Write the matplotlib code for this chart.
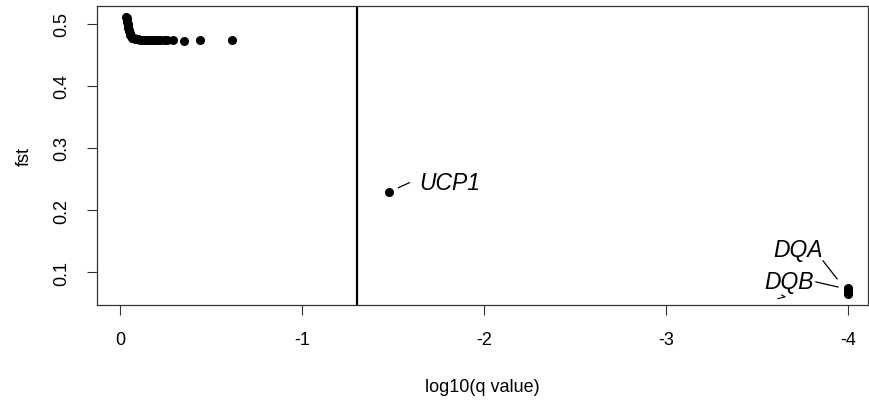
import matplotlib.pyplot as plt

plt.rcParams['font.family'] = ['Liberation Sans', 'DejaVu Sans']

# log10(q value) and fst for each locus
q_cluster = [-0.035, -0.037, -0.040, -0.040, -0.042, -0.044, -0.046, -0.048, -0.050, -0.053,
             -0.057, -0.062, -0.068, -0.075, -0.083, -0.092, -0.100, -0.110, -0.120, -0.130,
             -0.140, -0.150, -0.160, -0.170, -0.180, -0.190, -0.200, -0.210, -0.220, -0.240,
             -0.260, -0.290, -0.350, -0.440, -0.615]
fst_cluster = [0.512, 0.509, 0.506, 0.503, 0.500, 0.497, 0.494, 0.491, 0.488, 0.485,
               0.482, 0.480, 0.478, 0.477, 0.476, 0.475, 0.475, 0.474, 0.474, 0.474,
               0.474, 0.474, 0.474, 0.474, 0.474, 0.474, 0.474, 0.474, 0.474, 0.474,
               0.474, 0.474, 0.473, 0.474, 0.474]

genes = ['UCP1', 'DQA', 'DQB']
q_genes = [-1.478, -4.0, -4.0]
fst_genes = [0.229, 0.0735, 0.0650]
label_pos = [(-1.81, 0.245), (-3.725, 0.137), (-3.676, 0.084)]

q_cut = -1.301  # log10(0.05)

fig = plt.figure(figsize=(8.7, 4.02), dpi=100)
ax = fig.add_axes([0.1115, 0.2388, 0.8862, 0.7438])

ax.plot(q_cluster, fst_cluster, 'o', color='black', ms=5.5)
ax.plot(q_genes, fst_genes, 'o', color='black', ms=5.5)
ax.plot(q_genes[2], 0.069, 'o', color='black', ms=5.5)

ax.axvline(q_cut, color='black', lw=1.6)

# labels with connector segments
seg = [((-1.53, 0.236), (-1.59, 0.244)),
       ((-3.863, 0.118), (-3.94, 0.089)),
       ((-3.824, 0.084), (-3.945, 0.0758))]
for g, (lx, ly), (p0, p1) in zip(genes, label_pos, seg):
    ax.text(lx, ly, g, fontsize=16.5, style='italic', ha='center', va='center')
    ax.plot([p0[0], p1[0]], [p0[1], p1[1]], color='black', lw=0.9)
ax.plot([-3.615, -3.655, -3.635], [0.057, 0.060, 0.063], color='black', lw=0.8)

ax.set_xlim(0.126, -4.11)
ax.set_ylim(0.0468, 0.529)
ax.set_xticks([0, -1, -2, -3, -4])
ax.set_xticklabels(['0', '-1', '-2', '-3', '-4'])
ax.set_yticks([0.1, 0.2, 0.3, 0.4, 0.5])
ax.set_yticklabels(['0.1', '0.2', '0.3', '0.4', '0.5'], rotation=90, va='center')
ax.tick_params(direction='out', length=7, width=0.8, labelsize=13, colors='#333333',
               labelcolor='black')
ax.tick_params(axis='x', pad=12)
ax.tick_params(axis='y', pad=12)

for spine in ax.spines.values():
    spine.set_linewidth(0.9)
    spine.set_color('#333333')

ax.set_xlabel('log10(q value)', fontsize=13, labelpad=21)
ax.set_ylabel('fst', fontsize=13, labelpad=15)

fig.savefig('out.png', dpi=100)
